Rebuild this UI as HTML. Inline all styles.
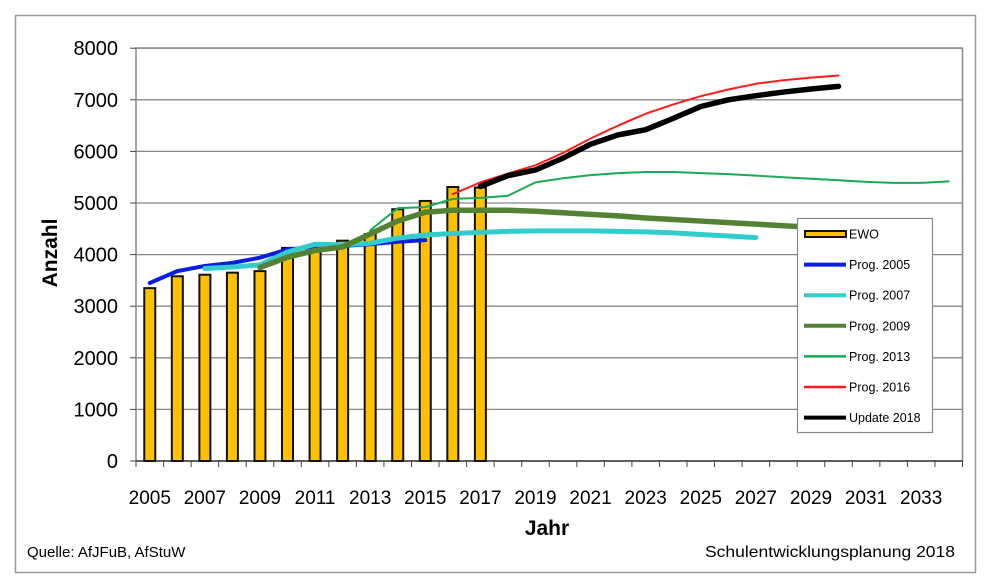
<!DOCTYPE html>
<html><head><meta charset="utf-8"><style>
body{margin:0;background:#fff;width:1000px;height:587px;overflow:hidden}
svg{display:block;font-family:"Liberation Sans",Arial,sans-serif}
</style></head><body>
<svg id="s" width="1000" height="587" xmlns="http://www.w3.org/2000/svg"></svg>
<script>
const s=document.getElementById('s');
const X0=136,W=27.55,Y0=461,K=0.0516;
const x=y=>X0+(y-2005+0.5)*W, yv=v=>Y0-v*K;
let h='';
h+='<rect x="15.5" y="15.5" width="960" height="557" fill="#fff" stroke="#999" stroke-width="1.5"/>';
h+='<rect x="'+X0+'" y="48" width="'+(30*W)+'" height="413" fill="#fff" stroke="#888" stroke-width="1.5"/>';
for(let i=0;i<=8;i++){const yy=Y0-i*1000*K;
 h+='<line x1="'+X0+'" x2="'+(X0+30*W)+'" y1="'+yy+'" y2="'+yy+'" stroke="#888" stroke-width="1.3"/>';
 h+='<line x1="'+(X0-6)+'" x2="'+X0+'" y1="'+yy+'" y2="'+yy+'" stroke="#444"/>';
 h+='<text x="118" y="'+(yy+7)+'" font-size="20" text-anchor="end">'+(i*1000)+'</text>';}
h+='<line x1="'+X0+'" x2="'+(X0+30*W)+'" y1="'+Y0+'" y2="'+Y0+'" stroke="#444" stroke-width="1.5"/>';
for(let i=0;i<=30;i++){const xx=X0+i*W;h+='<line x1="'+xx+'" x2="'+xx+'" y1="'+Y0+'" y2="'+(Y0+6)+'" stroke="#444"/>';}
for(let y=2005;y<=2033;y+=2)h+='<text x="'+x(y)+'" y="504" font-size="19" text-anchor="middle">'+y+'</text>';
const bars=[3350,3580,3610,3650,3680,4130,4100,4270,4400,4880,5040,5310,5300];
bars.forEach((v,i)=>{const xx=x(2005+i);h+='<rect x="'+(xx-5.5)+'" y="'+yv(v)+'" width="11" height="'+(v*K)+'" fill="#ffc000" stroke="#111" stroke-width="2"/>';});
function line(start,vals,col,w){h+='<polyline fill="none" stroke="'+col+'" stroke-width="'+w+'" stroke-linejoin="round" stroke-linecap="round" points="'+vals.map((v,i)=>x(start+i)+','+yv(v)).join(' ')+'"/>';}
line(2005,[3450,3680,3780,3840,3940,4100,4150,4170,4200,4250,4280],'#0a1ee0',4);
line(2007,[3730,3760,3800,4050,4200,4190,4220,4320,4380,4410,4430,4450,4460,4460,4460,4450,4440,4420,4390,4360,4330],'#33cccc',5);
line(2009,[3750,3950,4080,4150,4400,4650,4820,4860,4860,4860,4840,4810,4780,4750,4710,4680,4650,4620,4590,4560,4530,4510],'#548235',5.5);
line(2013,[4470,4900,4920,5080,5100,5140,5400,5480,5540,5580,5600,5600,5580,5560,5530,5500,5470,5440,5410,5390,5390,5420],'#1aaa55',2);
line(2016,[5170,5400,5570,5730,5970,6250,6500,6730,6910,7070,7200,7310,7380,7430,7470],'#ff1a1a',2);
line(2017,[5320,5530,5640,5870,6140,6320,6420,6640,6870,7000,7080,7150,7210,7260],'#000',5.5);
h+='<rect x="797.5" y="218.5" width="135" height="214" fill="#fff" stroke="#888" stroke-width="1.2"/>';
const L=[['EWO','#ffc000',0],['Prog. 2005','#0a1ee0',4],['Prog. 2007','#33cccc',4],['Prog. 2009','#548235',4],['Prog. 2013','#1aaa55',2.5],['Prog. 2016','#ff1a1a',2.5],['Update 2018','#000',4]];
L.forEach((l,i)=>{const yy=234+i*30.6;
 if(i==0)h+='<rect x="805" y="'+(yy-3)+'" width="41" height="6" fill="#ffc000" stroke="#111" stroke-width="2"/>';
 else h+='<line x1="804" x2="846" y1="'+yy+'" y2="'+yy+'" stroke="'+l[1]+'" stroke-width="'+l[2]+'"/>';
 h+='<text x="849" y="'+(yy+4.5)+'" font-size="12.5">'+l[0]+'</text>';});
h+='<text x="547" y="535" font-size="21" font-weight="bold" text-anchor="middle">Jahr</text>';
h+='<text transform="translate(57,253) rotate(-90)" font-size="21" font-weight="bold" text-anchor="middle">Anzahl</text>';
h+='<text x="27" y="557" font-size="15">Quelle: AfJFuB, AfStuW</text>';
h+='<text x="705" y="557" font-size="16" textLength="250" lengthAdjust="spacingAndGlyphs">Schulentwicklungsplanung 2018</text>';
s.innerHTML=h;
</script>
</body></html>
